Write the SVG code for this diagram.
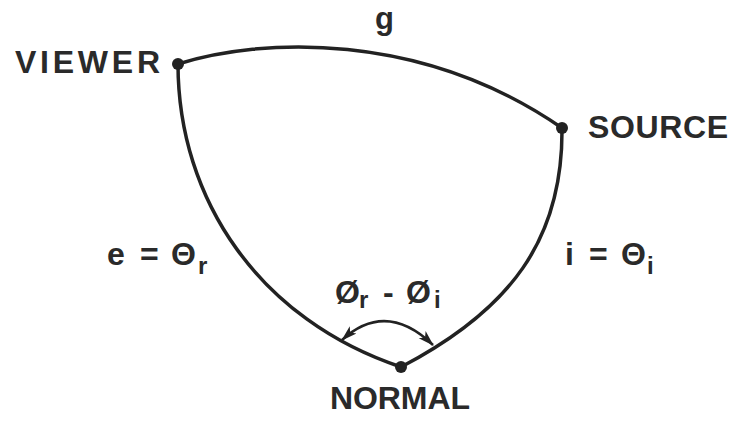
<svg xmlns="http://www.w3.org/2000/svg" width="735" height="421" viewBox="0 0 735 421">
<defs>
<style>
.t{font-family:"Liberation Sans",Arial,sans-serif;font-weight:bold;fill:#2a2a2a}
.c{fill:none;stroke:#222;stroke-width:3.5;stroke-linecap:round}
.a{fill:none;stroke:#222;stroke-width:2.5}
.d{fill:#222}
</style>
<marker id="ah" viewBox="0 0 16 12" refX="15" refY="6" markerWidth="16" markerHeight="12" orient="auto-start-reverse" markerUnits="userSpaceOnUse">
<path d="M0,1 L16,6 L0,11 L4,6 Z" fill="#222"/>
</marker>
</defs>
<rect width="735" height="421" fill="#fff"/>
<g id="connectors">
<path class="c" d="M178,64 C260,38 420,30 562,128"/>
<path class="c" d="M178,64 C178,200 260,320 401,367"/>
<path class="c" d="M562,128 C563,240 510,310 401,367"/>
<path class="a" d="M342,340 Q386,300 433,345" marker-start="url(#ah)" marker-end="url(#ah)"/>
</g>
<g id="viewer"><circle class="d" cx="178" cy="64" r="6"/><text class="t" x="15" y="73" font-size="32" textLength="145" lengthAdjust="spacing">VIEWER</text></g>
<g id="source"><circle class="d" cx="562" cy="128" r="6"/><text class="t" x="588" y="138" font-size="32" textLength="140" lengthAdjust="spacing">SOURCE</text></g>
<g id="normal"><circle class="d" cx="401" cy="367" r="6"/><text class="t" x="330" y="409" font-size="32" textLength="140" lengthAdjust="spacing">NORMAL</text></g>
<g id="g-label"><text class="t" x="375" y="29" font-size="31">g</text></g>
<g id="e-label"><text class="t" y="265" font-size="32"><tspan x="107">e</tspan><tspan x="140">=</tspan><tspan x="171">Θ</tspan><tspan x="198" dy="9" font-size="24">r</tspan></text></g>
<g id="i-label"><text class="t" y="265" font-size="32"><tspan x="565">i</tspan><tspan x="589">=</tspan><tspan x="621">Θ</tspan><tspan x="647" dy="9" font-size="24">i</tspan></text></g>
<g id="phi-label"><text class="t" y="303" font-size="32"><tspan x="335">Ø</tspan><tspan x="359" dy="5" font-size="24">r</tspan><tspan x="383" dy="-5">-</tspan><tspan x="406">Ø</tspan><tspan x="434" dy="5" font-size="24">i</tspan></text></g>
</svg>
